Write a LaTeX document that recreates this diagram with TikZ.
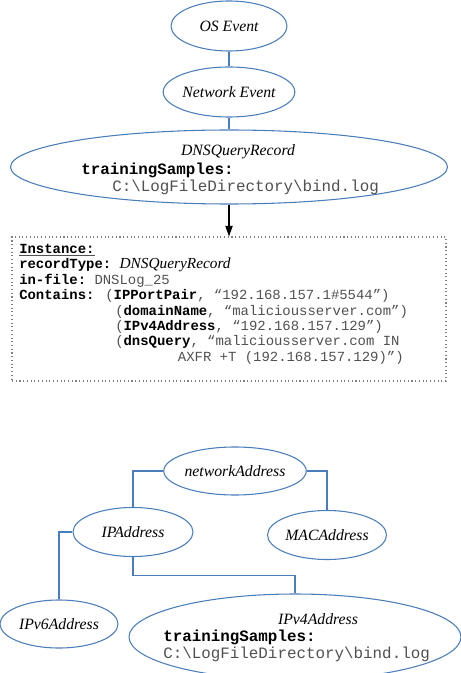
\documentclass[tikz,border=0pt]{standalone}
\usepackage{fontspec}
\setmainfont{Liberation Serif}
\setmonofont{Liberation Mono}
\usetikzlibrary{shapes.geometric}
\usetikzlibrary{arrows.meta}

\definecolor{linkblue}{RGB}{74,126,187}
\definecolor{valgray}{RGB}{80,80,80}
\newcommand{\logpath}{C:\textbackslash LogFileDirectory\textbackslash bind.log}
\newcommand{\key}[1]{{\color{black}\bfseries #1}}

\begin{document}
\begin{tikzpicture}[x=0.75pt, y=-0.75pt, >={Triangle[length=8pt,width=5.5pt]}]
  % definition of the basic styles.
  \tikzset{
    concept/.style={ellipse, draw=linkblue, line width=0.8pt, inner sep=0pt,
      font=\fontsize{11.8}{14}\selectfont\itshape},
    conceptname/.style={inner sep=0pt, font=\fontsize{11.8}{14}\selectfont\itshape},
    link/.style={draw=linkblue, line width=0.8pt},
    monotext/.style={inner sep=0pt, font=\fontsize{11.9}{11.55}\selectfont\ttfamily},
    boxtext/.style={inner sep=0pt, font=\fontsize{10.45}{11.55}\selectfont\ttfamily}
  }
  \useasboundingbox (0,0) rectangle (460,673);

  % The event hierarchy
  \node[concept, minimum width=87pt, minimum height=37.5pt] (osevent) at (229,26) {OS Event};
  \node[concept, minimum width=83.25pt, minimum height=37.5pt] (netevent) at (229,92) {Network Event};
  \node[concept, minimum width=327.75pt, minimum height=55.5pt] (dns) at (229,167) {};
  \node[conceptname] (dnstitle) at (238,152) {DNSQueryRecord};
  \node[monotext, anchor=west] (dnssamples) at (81,170) {\key{trainingSamples:}};
  \node[monotext, anchor=west, text=valgray] (dnsfile) at (112,187) {\logpath};

  \draw[link] (osevent.south) -- (netevent.north);
  \draw[link] (netevent.south) -- (dns.north);

  % The instance box
  \node[draw=gray, dotted, line width=0.8pt, minimum width=325.5pt, minimum height=108pt,
    inner sep=0pt] (instance) at (229,309) {};
  \node[boxtext, anchor=north west, align=left, text=valgray] (instancetext) at (19,244) {%
    \underline{\key{Instance:}}\\
    \key{recordType:} {\rmfamily\itshape\fontsize{11.5}{11.55}\selectfont\color{black}DNSQueryRecord}\\
    \key{in-file:} DNSLog\_25\\
    \key{Contains:}\hspace*{1.8pt} (\key{IPPortPair}, “192.168.157.1\#5544”)\\
    \hspace*{72pt}(\key{domainName}, “maliciousserver.com”)\\
    \hspace*{72pt}(\key{IPv4Address}, “192.168.157.129”)\\
    \hspace*{72pt}(\key{dnsQuery}, “maliciousserver.com IN\\
    \hspace*{119pt}AXFR +T (192.168.157.129)”)};

  \draw[->, line width=0.8pt] (dns.south) -- (instance.north);

  % The address hierarchy
  \node[concept, minimum width=94.5pt, minimum height=36pt] (netaddr) at (235,471) {networkAddress};
  \node[concept, minimum width=90pt, minimum height=36.75pt] (ipaddr) at (133,532) {IPAddress};
  \node[concept, minimum width=89.25pt, minimum height=36.75pt] (macaddr) at (327,535) {MACAddress};
  \node[concept, minimum width=88.5pt, minimum height=36pt] (ipv6) at (59,624) {IPv6Address};
  \node[concept, minimum width=249pt, minimum height=64.5pt] (ipv4) at (295,637) {};
  \node[conceptname] (ipv4title) at (318,619) {IPv4Address};
  \node[monotext, anchor=west] (ipv4samples) at (163,637) {\key{trainingSamples:}};
  \node[monotext, anchor=west, text=valgray] (ipv4file) at (163,654) {\logpath};

  \draw[link] (netaddr.west) -| (ipaddr.north);
  \draw[link] (netaddr.east) -| (macaddr.north);
  \draw[link] (ipaddr.west) -| (ipv6.north);
  \draw[link] (ipaddr.south) -- ++(0,18.5) -| (ipv4.north);
\end{tikzpicture}
\end{document}
